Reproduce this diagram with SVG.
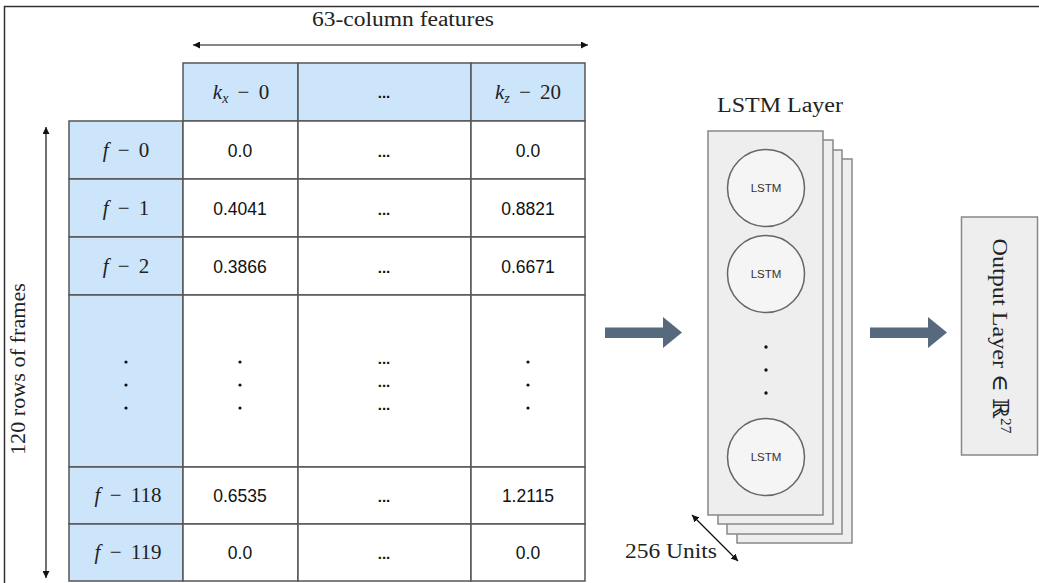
<svg xmlns="http://www.w3.org/2000/svg" width="1039" height="583" viewBox="0 0 1039 583">
<style>
.serif{font-family:"Liberation Serif","DejaVu Serif",serif;fill:#222;}
.sans{font-family:"Liberation Sans",Arial,sans-serif;fill:#111;}
.blue{fill:#cde5fb;stroke:#555;stroke-width:1.5;}
.cell{fill:#ffffff;stroke:#555;stroke-width:1.5;}
.thin{stroke:#111;stroke-width:1.2;fill:none;}
.fat{fill:#56697d;}
.sheet{fill:#eeeeee;stroke:#888;stroke-width:1.5;}
.unit{fill:#f5f5f5;stroke:#666;stroke-width:1.5;}
.d{font-size:17.5px;text-anchor:middle;}
.h{font-size:21px;text-anchor:middle;}
.i{font-style:italic;}
.ell{font-family:"Liberation Sans",Arial,sans-serif;font-size:15px;font-weight:bold;text-anchor:middle;fill:#111;}
.u{font-family:"Liberation Sans",Arial,sans-serif;font-size:11.5px;text-anchor:middle;fill:#333;}
</style>
<defs>
<marker id="ah" viewBox="0 0 10 10" refX="10" refY="5" markerWidth="7" markerHeight="7" orient="auto-start-reverse" markerUnits="userSpaceOnUse">
<path d="M0,0 L10,5 L0,10 z" fill="#111"/>
</marker>
</defs>
<rect x="4.5" y="6.5" width="1040" height="600" fill="#fff" stroke="#333" stroke-width="1.5"/>

<g id="title-columns"><text class="serif" x="403" y="26" font-size="20" text-anchor="middle" textLength="182" lengthAdjust="spacingAndGlyphs">63-column features</text></g>
<g id="title-rows"><text class="serif" transform="translate(18,369) rotate(-90)" x="0" y="7" font-size="20" text-anchor="middle" textLength="172" lengthAdjust="spacingAndGlyphs">120 rows of frames</text></g>

<g id="table">
<g id="header">
<rect class="blue" x="183" y="63" width="115" height="58"/>
<rect class="blue" x="298" y="63" width="173" height="58"/>
<rect class="blue" x="471" y="63" width="114" height="58"/>
<text class="serif h" x="241" y="99"><tspan class="i">k</tspan><tspan class="i" font-size="14" dy="4">x</tspan><tspan dy="-4" dx="4"> −</tspan><tspan dx="4"> 0</tspan></text>
<text class="ell" x="384" y="98">...</text>
<text class="serif h" x="528" y="99"><tspan class="i">k</tspan><tspan class="i" font-size="14" dy="4">z</tspan><tspan dy="-4" dx="4"> −</tspan><tspan dx="4"> 20</tspan></text>
</g>
<g id="row-labels">
<rect class="blue" x="69" y="121" width="114" height="58"/>
<rect class="blue" x="69" y="179" width="114" height="58"/>
<rect class="blue" x="69" y="237" width="114" height="58"/>
<rect class="blue" x="69" y="295" width="114" height="172"/>
<rect class="blue" x="69" y="467" width="114" height="57"/>
<rect class="blue" x="69" y="524" width="114" height="57"/>
<text class="serif h" x="126" y="157"><tspan class="i">f</tspan><tspan dx="4"> −</tspan><tspan dx="4"> 0</tspan></text>
<text class="serif h" x="126" y="215"><tspan class="i">f</tspan><tspan dx="4"> −</tspan><tspan dx="4"> 1</tspan></text>
<text class="serif h" x="126" y="273"><tspan class="i">f</tspan><tspan dx="4"> −</tspan><tspan dx="4"> 2</tspan></text>
<text class="serif h" x="128" y="502"><tspan class="i">f</tspan><tspan dx="4"> −</tspan><tspan dx="4"> 118</tspan></text>
<text class="serif h" x="128" y="559"><tspan class="i">f</tspan><tspan dx="4"> −</tspan><tspan dx="4"> 119</tspan></text>
<circle cx="126" cy="362" r="1.6" fill="#111"/><circle cx="126" cy="385" r="1.6" fill="#111"/><circle cx="126" cy="408" r="1.6" fill="#111"/>
</g>
<g id="cells">
<rect class="cell" x="183" y="121" width="115" height="58"/><rect class="cell" x="298" y="121" width="173" height="58"/><rect class="cell" x="471" y="121" width="114" height="58"/>
<rect class="cell" x="183" y="179" width="115" height="58"/><rect class="cell" x="298" y="179" width="173" height="58"/><rect class="cell" x="471" y="179" width="114" height="58"/>
<rect class="cell" x="183" y="237" width="115" height="58"/><rect class="cell" x="298" y="237" width="173" height="58"/><rect class="cell" x="471" y="237" width="114" height="58"/>
<rect class="cell" x="183" y="295" width="115" height="172"/><rect class="cell" x="298" y="295" width="173" height="172"/><rect class="cell" x="471" y="295" width="114" height="172"/>
<rect class="cell" x="183" y="467" width="115" height="57"/><rect class="cell" x="298" y="467" width="173" height="57"/><rect class="cell" x="471" y="467" width="114" height="57"/>
<rect class="cell" x="183" y="524" width="115" height="57"/><rect class="cell" x="298" y="524" width="173" height="57"/><rect class="cell" x="471" y="524" width="114" height="57"/>
<text class="sans d" x="240" y="157">0.0</text><text class="ell" x="384" y="157">...</text><text class="sans d" x="528" y="157">0.0</text>
<text class="sans d" x="240" y="215">0.4041</text><text class="ell" x="384" y="215">...</text><text class="sans d" x="528" y="215">0.8821</text>
<text class="sans d" x="240" y="273">0.3866</text><text class="ell" x="384" y="273">...</text><text class="sans d" x="528" y="273">0.6671</text>
<circle cx="240" cy="362" r="1.6" fill="#111"/><circle cx="240" cy="385" r="1.6" fill="#111"/><circle cx="240" cy="408" r="1.6" fill="#111"/>
<text class="ell" x="384" y="364">...</text><text class="ell" x="384" y="387">...</text><text class="ell" x="384" y="410">...</text>
<circle cx="528" cy="362" r="1.6" fill="#111"/><circle cx="528" cy="385" r="1.6" fill="#111"/><circle cx="528" cy="408" r="1.6" fill="#111"/>
<text class="sans d" x="240" y="502">0.6535</text><text class="ell" x="384" y="502">...</text><text class="sans d" x="528" y="502">1.2115</text>
<text class="sans d" x="240" y="559">0.0</text><text class="ell" x="384" y="559">...</text><text class="sans d" x="528" y="559">0.0</text>
</g>
</g>

<g id="lstm-layer">
<text class="serif" x="780" y="112" font-size="20" text-anchor="middle" textLength="126" lengthAdjust="spacingAndGlyphs">LSTM Layer</text>
<rect class="sheet" x="737" y="159" width="115" height="384" fill="#f2f2f2"/>
<rect class="sheet" x="727" y="150" width="115" height="384" fill="#f2f2f2"/>
<rect class="sheet" x="718" y="140" width="115" height="384" fill="#f2f2f2"/>
<rect class="sheet" x="708" y="131" width="115" height="384"/>
<g id="unit-1"><circle class="unit" cx="766" cy="188" r="38.5"/><text class="u" x="766" y="192">LSTM</text></g>
<g id="unit-2"><circle class="unit" cx="766" cy="274" r="38.5"/><text class="u" x="766" y="278">LSTM</text></g>
<circle cx="766" cy="347" r="1.7" fill="#111"/><circle cx="766" cy="370" r="1.7" fill="#111"/><circle cx="766" cy="393" r="1.7" fill="#111"/>
<g id="unit-256"><circle class="unit" cx="766" cy="457" r="38.5"/><text class="u" x="766" y="461">LSTM</text></g>
<text class="serif" x="625" y="558" font-size="20" textLength="92" lengthAdjust="spacingAndGlyphs">256 Units</text>
</g>

<g id="output-layer">
<rect x="961.5" y="217" width="76" height="238" fill="#eeeeee" stroke="#888" stroke-width="1.5"/>
<text class="serif" transform="translate(1000,336) rotate(90)" x="0" y="7" font-size="22" text-anchor="middle" textLength="195" lengthAdjust="spacingAndGlyphs">Output Layer ∈ ℝ<tspan font-size="14" dy="-8">27</tspan></text>
</g>

<g id="connectors">
<line class="thin" x1="193" y1="45" x2="588" y2="45" marker-start="url(#ah)" marker-end="url(#ah)"/>
<line class="thin" x1="46" y1="127" x2="46" y2="578" marker-start="url(#ah)" marker-end="url(#ah)"/>
<line class="thin" x1="692" y1="515" x2="738" y2="561" marker-start="url(#ah)" marker-end="url(#ah)"/>
<polygon class="fat" points="605,327.5 663,327.5 663,317 682,332.5 663,348 663,338 605,338"/>
<polygon class="fat" points="870,327.5 928,327.5 928,317 947,332.5 928,348 928,338 870,338"/>
</g>
</svg>
